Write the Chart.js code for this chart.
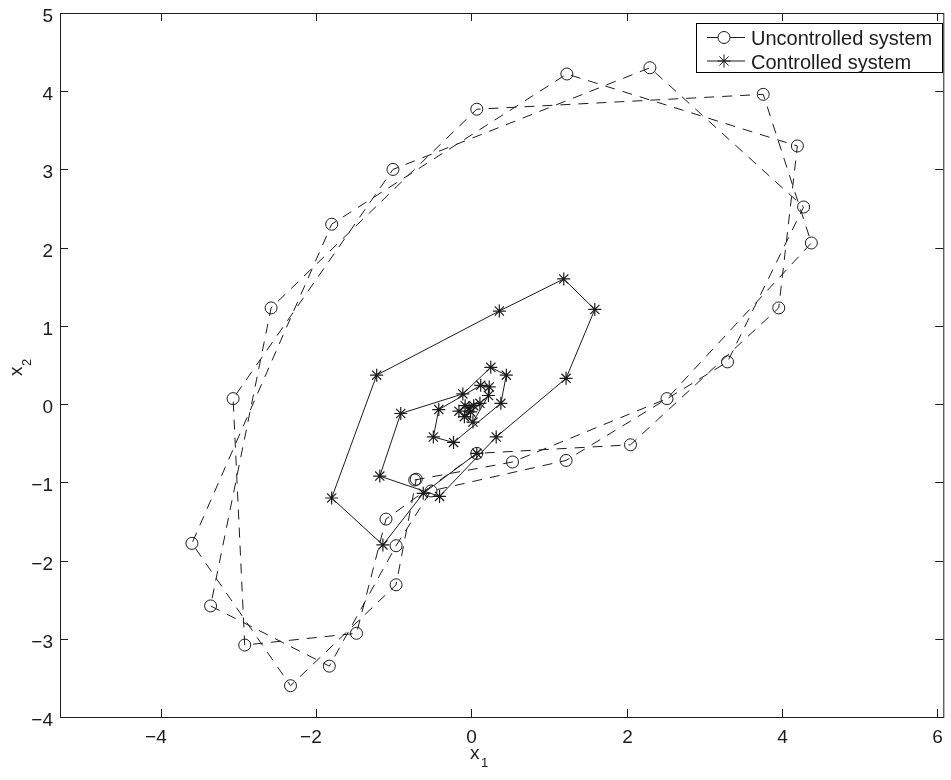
<!DOCTYPE html>
<html>
<head>
<meta charset="utf-8">
<title>Uncontrolled vs controlled system</title>
<script src="https://cdn.jsdelivr.net/npm/chart.js@4.4.1/dist/chart.umd.min.js"></script>
<style>
  html, body { margin: 0; padding: 0; background: #fff; overflow: hidden; }
  canvas { display: block; }
</style>
</head>
<body>
<canvas id="chart" width="951" height="780"></canvas>
<script>
// trajectory of the uncontrolled system (dashed, circles)
const UNCONTROLLED_X = [-0.73, 0.53, 2.52, 4.38, 3.76, 0.07, -2.58, -3.36, -1.83, -0.97,
  -0.52, 1.22, 3.30, 4.28, 2.30, -1.01, -3.07, -2.92, -1.48, -1.10,
  0.07, 2.05, 3.96, 4.20, 1.23, -1.80, -3.60, -2.33, -0.97, -0.71];
const UNCONTROLLED_Y = [-0.97, -0.74, 0.07, 2.06, 3.96, 3.77, 1.23, -2.58, -3.35, -1.81,
  -1.11, -0.72, 0.54, 2.52, 4.30, 3.00, 0.07, -3.08, -2.93, -1.47,
  -0.63, -0.52, 1.23, 3.30, 4.22, 2.30, -1.78, -3.60, -2.31, -0.96];

// trajectory of the controlled system (solid, asterisks)
const CONTROLLED_X = [0.07, -0.62, -1.14, -1.80, -1.22, 0.36, 1.19, 1.59, 1.22, 0.32,
  -0.41, -1.18, -0.91, -0.11, 0.25, 0.45, 0.38, -0.23, -0.49, -0.42,
  0.12, 0.23, 0.22, 0.02, -0.16, -0.08, 0.11, -0.01, -0.09, -0.03, 0.03];
const CONTROLLED_Y = [-0.63, -1.14, -1.80, -1.20, 0.37, 1.19, 1.60, 1.21, 0.33, -0.42,
  -1.18, -0.92, -0.12, 0.13, 0.47, 0.37, 0.01, -0.49, -0.42, -0.07,
  0.24, 0.22, 0.11, -0.23, -0.09, -0.02, 0.01, -0.10, -0.16, -0.05, -0.02];

const X_TICKS = [-4, -2, 0, 2, 4, 6];
const Y_TICKS = [-4, -3, -2, -1, 0, 1, 2, 3, 4, 5];
const X_RANGE = [-5.3, 6.08];
const Y_RANGE = [-4, 5];

const INK = "#1c1c1c";
const FONT = "'Liberation Sans', Arial, Helvetica, sans-serif";

function toPoints(xs, ys) {
  return xs.map((x, i) => ({ x, y: ys[i] }));
}

function line(ctx, x1, y1, x2, y2) {
  ctx.beginPath();
  ctx.moveTo(x1, y1);
  ctx.lineTo(x2, y2);
  ctx.stroke();
}

// matlab style box: frame, inward ticks, labels, axis titles, legend
const matlabAxes = {
  id: "matlabAxes",
  afterDraw(chart) {
    const { ctx, chartArea: a, scales: { x, y } } = chart;
    ctx.save();
    ctx.strokeStyle = INK;
    ctx.fillStyle = INK;
    ctx.lineWidth = 1;
    ctx.strokeRect(a.left + 0.5, a.top + 0.5, a.right - a.left, a.bottom - a.top);

    const tick = 8;
    ctx.font = "19px " + FONT;
    X_TICKS.forEach((v) => {
      const px = Math.round(x.getPixelForValue(v)) + 0.5;
      line(ctx, px, a.bottom, px, a.bottom - tick);
      line(ctx, px, a.top, px, a.top + tick);
      // digits centred on the tick, minus sign hangs to the left
      const digits = String(Math.abs(v));
      const w = ctx.measureText(digits).width;
      ctx.textAlign = "left";
      ctx.fillText(digits, px - w / 2, a.bottom + 26);
      if (v < 0) {
        const mw = ctx.measureText("\u2212").width;
        ctx.fillText("\u2212", px - w / 2 - mw, a.bottom + 26);
      }
    });
    Y_TICKS.forEach((v) => {
      const py = Math.round(y.getPixelForValue(v)) + 0.5;
      line(ctx, a.left, py, a.left + tick, py);
      line(ctx, a.right, py, a.right - tick, py);
      ctx.textAlign = "right";
      ctx.fillText(v < 0 ? "\u2212" + Math.abs(v) : String(v), a.left - 7, py + 8);
    });

    // axis titles with subscripts
    ctx.textAlign = "left";
    ctx.font = "19px " + FONT;
    ctx.fillText("x", 470, 759);
    ctx.font = "13px " + FONT;
    ctx.fillText("1", 481, 767);

    ctx.save();
    ctx.translate(22, 376);
    ctx.rotate(-Math.PI / 2);
    ctx.font = "19px " + FONT;
    ctx.fillText("x", 0, 0);
    ctx.font = "13px " + FONT;
    ctx.fillText("2", 10, 9);
    ctx.restore();

    // legend
    const box = { left: 696, top: 23, width: 246, height: 49 };
    ctx.fillStyle = "#fff";
    ctx.fillRect(box.left, box.top, box.width, box.height);
    ctx.strokeStyle = "#000";
    ctx.strokeRect(box.left + 0.5, box.top + 0.5, box.width, box.height);
    chart.data.datasets.forEach((ds, i) => {
      const ry = box.top + 14.5 + i * 23.5;
      ctx.strokeStyle = ds.borderColor;
      ctx.lineWidth = ds.borderWidth;
      line(ctx, 707, ry, 745, ry);
      ctx.fillStyle = "#fff";
      Chart.helpers.drawPoint(ctx, {
        pointStyle: ds.pointStyle,
        radius: ds.pointRadius,
        borderWidth: ds.pointBorderWidth,
        rotation: 0
      }, 724, ry);
      ctx.fillStyle = INK;
      ctx.font = "20px " + FONT;
      ctx.textAlign = "left";
      ctx.fillText(ds.label, 751, ry + 7.5);
    });
    ctx.restore();
  }
};

new Chart(document.getElementById("chart"), {
  type: "scatter",
  data: {
    datasets: [
      {
        label: "Uncontrolled system",
        data: toPoints(UNCONTROLLED_X, UNCONTROLLED_Y),
        showLine: true,
        borderColor: INK,
        borderWidth: 1,
        borderDash: [10, 8],
        pointStyle: "circle",
        pointRadius: 6,
        pointBorderWidth: 1,
        pointBorderColor: INK,
        pointBackgroundColor: "rgba(0,0,0,0)",
        order: 1
      },
      {
        label: "Controlled system",
        data: toPoints(CONTROLLED_X, CONTROLLED_Y),
        showLine: true,
        borderColor: INK,
        borderWidth: 1,
        pointStyle: "star",
        pointRadius: 6.5,
        pointBorderWidth: 1.2,
        pointBorderColor: INK,
        pointBackgroundColor: INK,
        order: 0
      }
    ]
  },
  options: {
    responsive: false,
    animation: false,
    events: [],
    layout: { padding: { left: 60, top: 13, right: 0, bottom: 63 } },
    scales: {
      x: { type: "linear", display: false, min: X_RANGE[0], max: X_RANGE[1] },
      y: { type: "linear", display: false, min: Y_RANGE[0], max: Y_RANGE[1] }
    },
    plugins: {
      legend: { display: false },
      tooltip: { enabled: false }
    }
  },
  plugins: [matlabAxes]
});
</script>
</body>
</html>
